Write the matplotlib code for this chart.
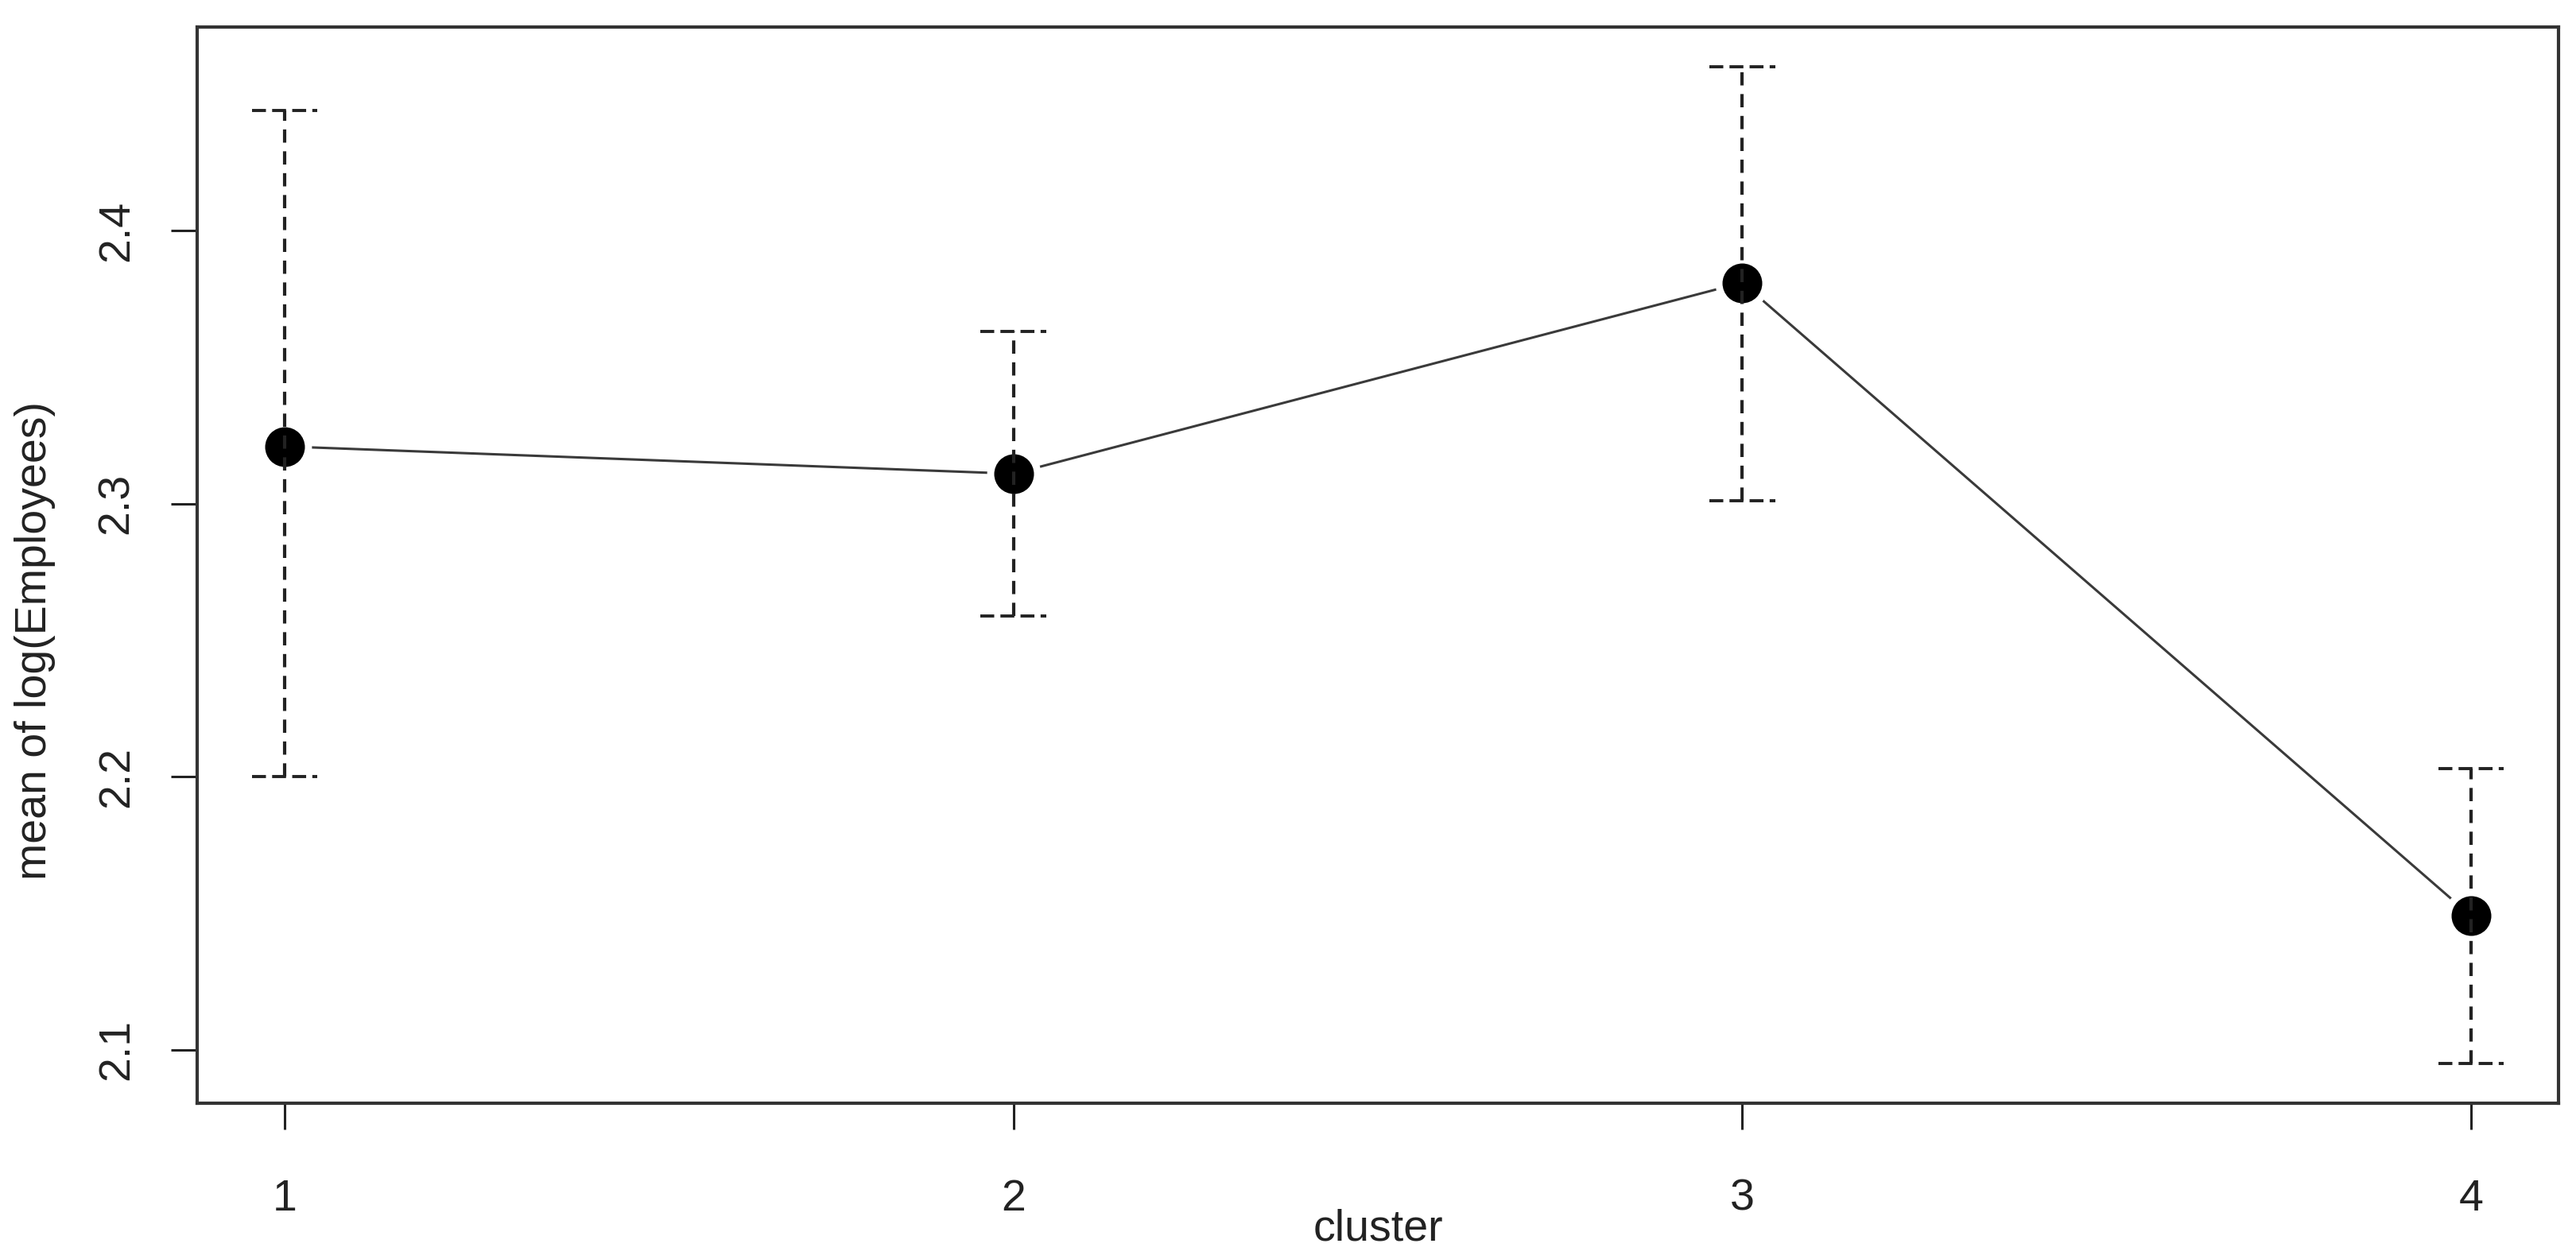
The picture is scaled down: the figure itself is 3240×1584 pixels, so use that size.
# Means of log(Employees) per cluster with confidence intervals (R plotmeans style)

import matplotlib.pyplot as plt

plt.rcParams['font.family'] = ['Liberation Sans Narrow', 'Liberation Sans', 'DejaVu Sans']

# Data
clusters = [1, 2, 3, 4]
means = [2.321, 2.311, 2.381, 2.149]
upper = [2.444, 2.363, 2.460, 2.203]
lower = [2.200, 2.259, 2.301, 2.095]
yticks = [2.1, 2.2, 2.3, 2.4]

fig = plt.figure(figsize=(16.205, 7.92), dpi=200)
ax = fig.add_axes([0.0765, 0.1237, 0.9164, 0.8548])

ink = '#222222'

# line between the means
ax.plot(clusters, means, color='#3a3a3a', linewidth=1.1, zorder=2)

# points, with a white ring so the line stops short of them
ax.plot(clusters, means, linestyle='none', marker='o', markersize=21.2,
        markerfacecolor='black', markeredgecolor='white',
        markeredgewidth=3.2, zorder=3)

# dashed error bars with dashed caps
dash = (0, (4, 2.6))
capdash = (0, (4.5, 2))
capw = 0.045
ax.vlines(clusters, lower, upper, colors=ink, linewidth=1.5,
          linestyles=[dash], zorder=4)
ax.hlines(upper, [c - capw for c in clusters], [c + capw for c in clusters],
          colors=ink, linewidth=1.4, linestyles=[capdash], zorder=4)
ax.hlines(lower, [c - capw for c in clusters], [c + capw for c in clusters],
          colors=ink, linewidth=1.4, linestyles=[capdash], zorder=4)

# R style axis limits: 4% padding on each side
xpad = 0.04 * (max(clusters) - min(clusters))
ax.set_xlim(min(clusters) - xpad, max(clusters) + xpad)
ypad = 0.04 * (max(upper) - min(lower))
ax.set_ylim(min(lower) - ypad, max(upper) + ypad)

ax.set_xticks(clusters)
ax.set_xticklabels([str(c) for c in clusters])
ax.set_yticks(yticks)
ax.set_yticklabels([f'{t:.1f}' for t in yticks], rotation=90, va='center')

ax.tick_params(axis='both', direction='out', length=12, width=1.1,
               colors=ink, labelsize=20, labelcolor=ink)
ax.tick_params(axis='x', pad=22)
ax.tick_params(axis='y', pad=15)

for s in ax.spines.values():
    s.set_linewidth(1.5)
    s.set_color('#333333')

ax.set_xlabel('cluster', fontsize=20, color=ink, labelpad=-5)
ax.set_ylabel('mean of log(Employees)', fontsize=20, color=ink)
ax.yaxis.set_label_coords(-0.06, 0.43)

fig.savefig('out.png', dpi=200, facecolor='white')
